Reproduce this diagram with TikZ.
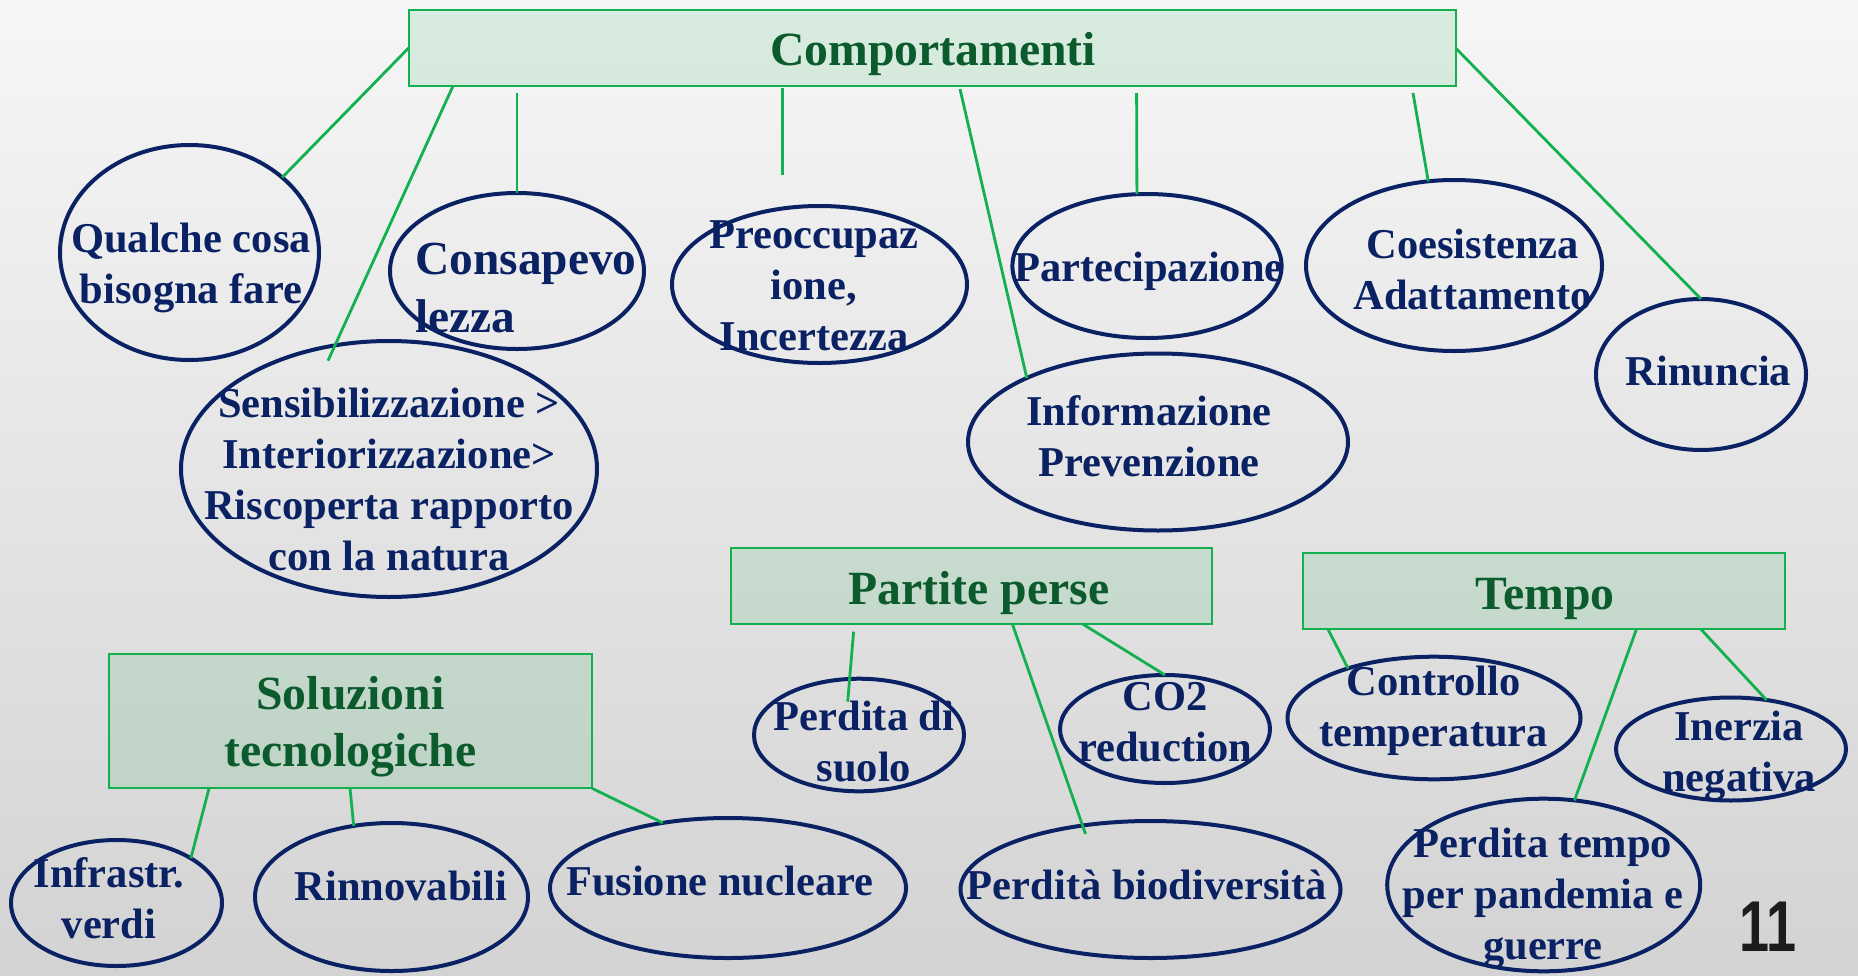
\documentclass[tikz,border=0pt]{standalone}
\usepackage{fontspec}
\setmainfont{Liberation Serif}
\newfontfamily\numfont[FakeStretch=0.75]{Liberation Sans}
\usetikzlibrary{shapes.geometric,calc}
\definecolor{navy}{HTML}{0A2263}
\definecolor{lgreen}{HTML}{12B04F}
\definecolor{dgreen}{HTML}{0B5B2C}
\definecolor{bgtop}{HTML}{F6F6F6}
\definecolor{bgmid}{HTML}{E6E6E6}
\definecolor{bgbot}{HTML}{D3D3D3}
\definecolor{numcol}{HTML}{1C1C1C}
\begin{document}
\begin{tikzpicture}[x=0.5pt,y=-0.5pt,
  ell/.style={ellipse, draw=navy, line width=2pt, inner sep=0pt, outer sep=0pt},
  box/.style={rectangle, draw=lgreen, line width=1pt, fill=lgreen, fill opacity=0.13, inner sep=0pt, outer sep=0pt},
  link/.style={draw=lgreen, line width=1.4pt},
  etxt/.style={text=navy, font=\fontsize{21.25}{25.5}\selectfont\bfseries, align=center, inner sep=0pt,
    execute at begin node=\strut, execute at end node=\strut},
  btxt/.style={text=dgreen, font=\fontsize{23.85}{28.5}\selectfont\bfseries, align=center, inner sep=0pt,
    execute at begin node=\strut, execute at end node=\strut}]

\shade[top color=bgtop, middle color=bgmid, bottom color=bgbot] (0,0) rectangle (1858,975);
\useasboundingbox (0,0) rectangle (1858,975);

% boxes
\node[box, minimum width=523.5pt, minimum height=38pt] (comp) at (932.1,48) {};
\node[box, minimum width=241.5pt, minimum height=67.3pt] (sol) at (350.5,721) {};
\node[box, minimum width=240.75pt, minimum height=38.15pt] (part) at (971.25,585.85) {};
\node[box, minimum width=240.8pt, minimum height=38.15pt] (tempo) at (1543.8,590.85) {};

% ellipses
\node[ell, minimum width=129.5pt, minimum height=107.5pt] (qual) at (189.5,252.5) {};
\node[ell, minimum width=127pt, minimum height=78pt] (cons) at (517,271) {};
\node[ell, minimum width=147.5pt, minimum height=78.5pt] (preo) at (819.5,284.5) {};
\node[ell, minimum width=134.6pt, minimum height=72pt] (parte) at (1147,266) {};
\node[ell, minimum width=148pt, minimum height=85.5pt] (coes) at (1454,265.5) {};
\node[ell, minimum width=105pt, minimum height=75.5pt] (rin) at (1701,374.5) {};
\node[ell, minimum width=208pt, minimum height=128pt] (sens) at (389,469) {};
\node[ell, minimum width=190pt, minimum height=88.5pt] (info) at (1158,442) {};
\node[ell, minimum width=105.5pt, minimum height=63pt] (infra) at (116.5,903) {};
\node[ell, minimum width=136.5pt, minimum height=74pt] (rinn) at (391.5,897) {};
\node[ell, minimum width=178pt, minimum height=70pt] (fus) at (728,888) {};
\node[ell, minimum width=105pt, minimum height=56.3pt] (suolo) at (859,735) {};
\node[ell, minimum width=105pt, minimum height=54pt] (co2) at (1165,729) {};
\node[ell, minimum width=190pt, minimum height=68.5pt] (bio) at (1150.5,889.5) {};
\node[ell, minimum width=146.5pt, minimum height=61.3pt] (ctrl) at (1434,718) {};
\node[ell, minimum width=115pt, minimum height=51.5pt] (inerz) at (1731,749) {};
\node[ell, minimum width=156.5pt, minimum height=86.3pt] (ptempo) at (1543.7,885) {};

\coordinate (preoend) at (782.6,175);

% connectors
\draw[link] (comp.west) -- (qual.39.5);
\draw[link] ($(comp.south west)+(44.4,0)$) -- ($(sens.center)+(-61,-108.3)$);
\draw[link] ($(comp.south west)+(108.4,7)$) -- (cons.north);
\draw[link] ($(comp.south west)+(374,2)$) -- (preoend);
\draw[link] ($(comp.south west)+(551.4,3)$) -- (info.154.6);
\draw[link] ($(comp.south west)+(728,7)$) -- (parte.98);
\draw[link] ($(comp.south west)+(1004.4,7)$) -- (coes.107.5);
\draw[link] (comp.east) -- (rin.north);

\draw[link] ($(sol.south west)+(100,0)$) -- (infra.31.1);
\draw[link] ($(sol.south west)+(241,0)$) -- (rinn.118.1);
\draw[link] (sol.south east) -- (fus.135.2);

\draw[link] ($(part.south west)+(123.1,7.7)$) -- ($(suolo.center)+(-11.3,-33.3)$);
\draw[link] ($(part.south west)+(281.9,0)$) -- ($(bio.center)+(-65,-55.5)$);
\draw[link] ($(part.south west)+(352.1,0)$) -- (co2.north);

\draw[link] ($(tempo.south west)+(24.8,0)$) -- (ctrl.150.7);
\draw[link] ($(tempo.south west)+(333.5,0)$) -- (ptempo.70.5);
\draw[link] ($(tempo.south west)+(397.7,0)$) -- (inerz.54.7);

% box texts
\node[btxt] (tcomp) at (933,54) {Comportamenti};
\node[btxt] (tsol) at (350.5,730) {Soluzioni\\tecnologiche};
\node[btxt] (tpart) at (979,593) {Partite perse};
\node[btxt] (ttempo) at (1545,598) {Tempo};

% ellipse texts
\node[etxt] (tqual) at (191,271) {Qualche cosa\\bisogna fare};
\node[etxt, align=left, anchor=west, font=\fontsize{23.7}{29}\selectfont\bfseries] (tcons) at (415,297) {Consapevo\\lezza};
\node[etxt] (tpreo) at (814,293.5) {Preoccupaz\\ione,\\Incertezza};
\node[etxt] (tparte) at (1149,271) {Partecipazione};
\node[etxt] (tcoes) at (1472.6,277) {Coesistenza\\Adattamento};
\node[etxt] (trin) at (1708.5,375) {Rinuncia};
\node[etxt] (tsens) at (389,487) {Sensibilizzazione >\\Interiorizzazione>\\Riscoperta rapporto\\con la natura};
\node[etxt] (tinfo) at (1149,444) {Informazione\\Prevenzione};
\node[etxt] (tinfra) at (109,906) {Infrastr.\\verdi};
\node[etxt] (trinn) at (401,890.5) {Rinnovabili};
\node[etxt] (tfus) at (719.7,885.5) {Fusione nucleare};
\node[etxt] (tsuolo) at (864,748.5) {Perdita di\\suolo};
\node[etxt] (tco2) at (1165,730) {CO2\\reduction};
\node[etxt] (tbio) at (1147,889.5) {Perdità biodiversità};
\node[etxt] (tctrl) at (1433.5,713.5) {Controllo\\temperatura};
\node[etxt] (tinerz) at (1739,759) {Inerzia\\negativa};
\node[etxt] (tptempo) at (1543,901) {Perdita tempo\\per pandemia e\\guerre};

\node[anchor=base west, inner sep=0pt, text=numcol, font=\numfont\bfseries\fontsize{36}{40}\selectfont] (pnum) at (1739,951.7) {11};
\end{tikzpicture}
\end{document}
